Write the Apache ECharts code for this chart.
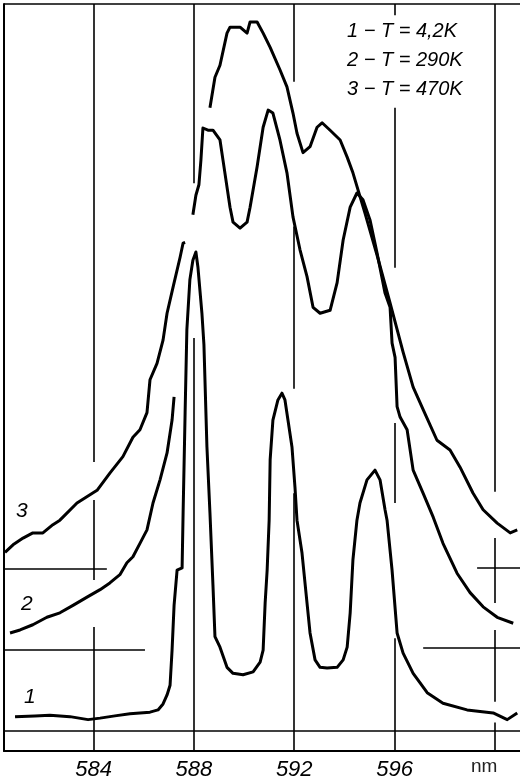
<!DOCTYPE html>
<html>
<head>
<meta charset="utf-8">
<script src="https://cdn.jsdelivr.net/npm/echarts@6/dist/echarts.min.js"></script>
<style>
html,body{margin:0;padding:0;background:#fff;}
#chart{width:520px;height:781px;}
</style>
</head>
<body>
<div id="chart"></div>
<script>
// ---- data (wavelength in nm, intensity in arbitrary units) ----
const wavelength1 = [580.87,581.66,582.26,583.06,583.78,584.26,584.85,585.45,586.25,586.57,586.77,586.93,587.05,587.13,587.21,587.33,587.53,587.57,587.65,587.72,587.84,587.96,588.08,588.16,588.32,588.40,588.52,588.64,588.76,588.84,589.04,589.32,589.56,589.96,590.36,590.64,590.76,590.84,590.92,591.00,591.04,591.15,591.35,591.51,591.63,591.75,591.91,592.03,592.11,592.31,592.51,592.63,592.83,593.03,593.31,593.71,593.95,594.11,594.23,594.34,594.50,594.62,594.90,595.22,595.42,595.62,595.70,595.90,596.10,596.34,596.74,597.30,597.93,598.89,599.93,600.49,600.89];
const intensity1 = [4.6,4.7,4.8,4.6,4.2,4.4,4.7,5.0,5.2,5.5,6.3,7.5,8.8,13.5,19.5,24.2,24.5,31.9,45.3,56.4,63.1,65.7,66.8,64.8,58.6,54.4,40.7,31.9,22.2,15.3,13.9,11.2,10.4,10.2,10.6,11.9,13.5,19.8,24.2,30.9,39.0,44.3,47.0,47.9,47.0,44.3,40.7,35.3,30.9,26.5,19.8,15.8,12.2,11.2,11.1,11.2,12.2,13.9,18.5,25.6,30.9,33.2,36.3,37.6,36.3,32.3,30.9,24.2,15.8,13.1,10.4,7.8,6.4,5.5,5.1,4.2,5.1];

const wavelength2 = [580.67,581.07,581.58,582.14,582.66,583.18,583.74,584.26,584.65,585.05,585.33,585.57,585.85,586.13,586.37,586.65,586.93,587.13,587.21,587.50,587.96,588.08,588.20,588.28,588.36,588.56,588.76,589.04,589.16,589.44,589.56,589.84,590.12,590.24,590.52,590.76,590.96,591.15,591.43,591.71,591.95,592.23,592.51,592.75,593.03,593.43,593.71,593.95,594.23,594.50,594.74,595.02,595.30,595.62,595.82,595.90,596.02,596.10,596.22,596.50,596.74,597.14,597.54,597.93,598.49,599.01,599.53,600.09,600.73];
const intensity2 = [15.8,16.2,16.9,17.9,18.5,19.5,20.6,21.6,22.5,23.6,25.2,26.0,27.8,29.6,33.2,36.3,39.9,44.3,47.4,null,71.8,74.4,75.8,79.1,83.4,83.1,83.1,81.8,79.1,72.8,70.8,70.0,70.8,72.8,78.2,83.5,85.8,85.4,81.8,77.4,71.5,67.1,63.5,59.4,58.6,59.0,62.7,68.4,72.8,74.7,73.8,71.1,66.7,61.3,59.4,54.6,52.7,46.1,44.7,43.0,37.6,34.5,31.3,27.8,23.8,21.2,19.3,17.9,17.1];

const wavelength3 = [580.47,580.79,581.19,581.58,581.98,582.38,582.66,583.34,584.14,584.65,585.17,585.57,585.85,586.13,586.25,586.53,586.77,586.93,587.17,587.45,587.57,587.65,588.10,588.64,588.84,589.04,589.32,589.44,589.84,590.12,590.24,590.52,590.76,591.04,591.43,591.71,591.95,592.11,592.35,592.63,592.91,593.11,593.43,593.83,594.11,594.34,594.82,595.30,595.82,596.34,596.74,597.14,597.69,598.21,598.61,599.13,599.53,600.09,600.61,600.89];
const intensity3 = [26.6,27.6,28.5,29.2,29.2,30.3,30.9,33.2,34.9,37.2,39.4,42.0,43.0,45.3,49.7,51.9,55.0,58.6,62.1,66.1,68.0,68.1,null,86.1,90.2,91.8,96.1,96.9,96.9,96.1,97.6,97.6,96.1,94.2,91.2,88.9,85.4,82.7,80.1,80.9,83.5,84.1,83.1,81.8,79.5,77.4,72.0,66.4,60.0,53.4,48.7,45.7,41.6,40.3,38.0,34.5,32.3,30.5,29.2,29.6];

const tickLabels = [584, 588, 592, 596];
const curveLabels = ['1', '2', '3'];
const legendLines = ['1 − T = 4,2K', '2 − T = 290K', '3 − T = 470K'];
const unitLabel = 'nm';

// ---- helpers ----
const X_MIN = 580.43, X_MAX = 601.0;
function zip(xs, ys) { return xs.map((x, i) => [x, ys[i] === null ? '-' : ys[i]]); }

// broken vertical rulings of the original plate: [x, yFrom, yTo]
const vRules = [
  [584, 100, 38.7], [584, 33.6, 22.9], [584, 16.6, 0],
  [588, 100, 76.0], [588, 55.3, 0],
  [592, 100, 89.6], [592, 70.2, 48.5], [592, 34.5, 0],
  [596, 100, 98.5], [596, 86.1, 64.7], [596, 43.9, 33.2], [596, 15.1, 0],
  [600, 100, 34.7], [600, 28.5, 19.8], [600, 16.2, 6.6], [600, 3.8, 0]
];
// horizontal rulings: [y, xFrom, xTo]
const hRules = [
  [100, X_MIN, X_MAX],
  [2.68, X_MIN, X_MAX],
  [13.5, X_MIN, 586.05], [13.8, 597.14, X_MAX],
  [24.4, X_MIN, 584.53], [24.5, 599.29, X_MAX]
];
const ruleData = [];
vRules.forEach(r => ruleData.push([{coord:[r[0], r[1]]},{coord:[r[0], r[2]]}]));
hRules.forEach(r => ruleData.push([{coord:[r[1], r[0]]},{coord:[r[2], r[0]]}]));

const FONT = '"Liberation Sans",Arial,sans-serif';

const chart = echarts.init(document.getElementById('chart'), null, {renderer:'canvas'});
const lineSeries = (name, data) => ({
  name, type: 'line', data, showSymbol: false, symbol: 'none',
  connectNulls: false, smooth: false,
  lineStyle: { color: '#000', width: 3, join: 'round' },
  z: 3
});

chart.setOption({
  animation: false,
  backgroundColor: '#fff',
  grid: { left: 4, right: 0, top: 4, bottom: 30, containLabel: false },
  xAxis: {
    type: 'value', min: X_MIN, max: X_MAX,
    axisLine: { show: true, lineStyle: { color: '#000', width: 2 } },
    axisTick: { show: false },
    splitLine: { show: false },
    axisLabel: {
      show: true, customValues: tickLabels, margin: 8,
      color: '#000', fontSize: 22, fontStyle: 'italic', fontFamily: FONT,
      formatter: v => String(Math.round(v))
    }
  },
  yAxis: {
    type: 'value', min: 0, max: 100,
    axisLine: { show: true, lineStyle: { color: '#000', width: 2 } },
    axisTick: { show: false }, axisLabel: { show: false }, splitLine: { show: false }
  },
  graphic: [
    { type: 'text', left: 471, top: 757, style: { text: unitLabel, fill: '#222', font: '19px "Liberation Sans",sans-serif' } },
    { type: 'text', left: 347, top: 21, style: { text: legendLines[0], fill: '#000', font: 'italic 20px ' + FONT } },
    { type: 'text', left: 347, top: 50, style: { text: legendLines[1], fill: '#000', font: 'italic 20px ' + FONT } },
    { type: 'text', left: 347, top: 79, style: { text: legendLines[2], fill: '#000', font: 'italic 20px ' + FONT } },
    { type: 'text', left: 16, top: 501, style: { text: curveLabels[2], fill: '#000', font: 'italic 21px ' + FONT } },
    { type: 'text', left: 21, top: 594, style: { text: curveLabels[1], fill: '#000', font: 'italic 21px ' + FONT } },
    { type: 'text', left: 24, top: 687, style: { text: curveLabels[0], fill: '#000', font: 'italic 21px ' + FONT } }
  ],
  series: [
    Object.assign(lineSeries('1 − T = 4,2K', zip(wavelength1, intensity1)), {
      markLine: {
        silent: true, symbol: ['none', 'none'], animation: false,
        label: { show: false },
        lineStyle: { color: '#000', width: 1.6, type: 'solid' },
        data: ruleData
      }
    }),
    lineSeries('2 − T = 290K', zip(wavelength2, intensity2)),
    lineSeries('3 − T = 470K', zip(wavelength3, intensity3))
  ]
});
</script>
</body>
</html>
